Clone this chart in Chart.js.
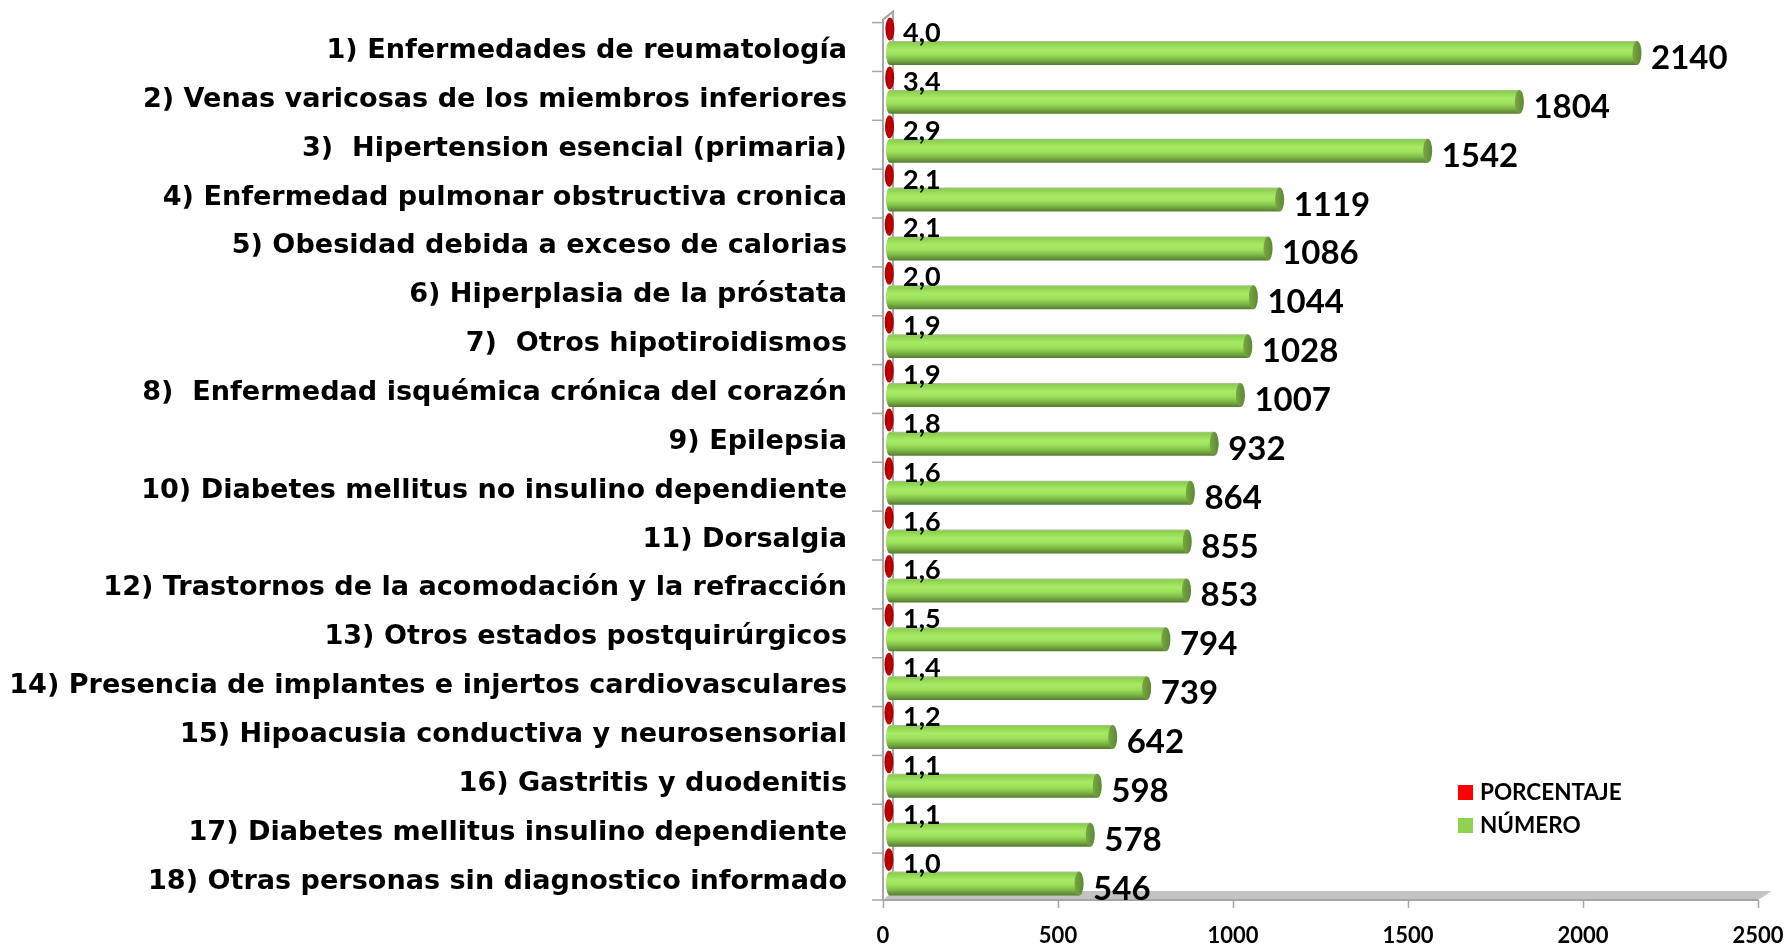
<!DOCTYPE html>
<html><head><meta charset="utf-8">
<script src="https://cdn.jsdelivr.net/npm/chart.js@4/dist/chart.umd.min.js"></script>
<style>html,body{margin:0;padding:0;background:#fff;}#wrap{width:1789px;height:945px;}</style>
</head><body><div id="wrap"><canvas id="c"></canvas></div>
<script>
const categories = [
"1) Enfermedades de reumatología",
"2) Venas varicosas de los miembros inferiores",
"3)  Hipertension esencial (primaria)",
"4) Enfermedad pulmonar obstructiva cronica",
"5) Obesidad debida a exceso de calorias",
"6) Hiperplasia de la próstata",
"7)  Otros hipotiroidismos",
"8)  Enfermedad isquémica crónica del corazón",
"9) Epilepsia",
"10) Diabetes mellitus no insulino dependiente",
"11) Dorsalgia",
"12) Trastornos de la acomodación y la refracción",
"13) Otros estados postquirúrgicos",
"14) Presencia de implantes e injertos cardiovasculares",
"15) Hipoacusia conductiva y neurosensorial",
"16) Gastritis y duodenitis",
"17) Diabetes mellitus insulino dependiente",
"18) Otras personas sin diagnostico informado"];
const porcentaje = [4.0,3.4,2.9,2.1,2.1,2.0,1.9,1.9,1.8,1.6,1.6,1.6,1.5,1.4,1.2,1.1,1.1,1.0];
const numero = [2140,1804,1542,1119,1086,1044,1028,1007,932,864,855,853,794,739,642,598,578,546];
const seriesNames = ["PORCENTAJE","NÚMERO"];
const xTicks = [0,500,1000,1500,2000,2500];

const FONT = "Lato";
const CAT_FONT = "'DejaVu Sans'";
// fit category font to the available label width
const mctx = document.createElement('canvas').getContext('2d');
mctx.font = "bold 100px " + CAT_FONT;
let maxW = 0;
categories.forEach(c => { maxW = Math.max(maxW, mctx.measureText(c).width); });
const catFont = Math.min(30, 100 * 838 / maxW);

const LEGEND_COLORS = ["#ff0000", "#92d050"];

const deco = {
  id: 'deco',
  beforeDatasetsDraw(chart) {
    const {ctx, chartArea: a, scales: {x}} = chart;
    const x0 = x.getPixelForValue(0);
    const xe = x.getPixelForValue(2500);
    const yb = a.bottom + 4;
    ctx.save();
    // floor
    ctx.fillStyle = "#c3c3c3";
    ctx.beginPath();
    ctx.moveTo(x0, yb); ctx.lineTo(xe, yb); ctx.lineTo(xe + 14, yb - 9); ctx.lineTo(x0 + 10, yb - 9); ctx.closePath();
    ctx.fill();
    ctx.strokeStyle = "#a6a6a6"; ctx.lineWidth = 2;
    ctx.beginPath(); ctx.moveTo(x0, yb); ctx.lineTo(xe, yb); ctx.stroke();
    // x ticks
    ctx.lineWidth = 1.5;
    xTicks.forEach(v => {
      const px = Math.round(x.getPixelForValue(v)) + 0.5;
      ctx.beginPath(); ctx.moveTo(px, yb); ctx.lineTo(px, yb + 8); ctx.stroke();
    });
    // wall
    ctx.lineWidth = 2;
    ctx.beginPath();
    ctx.moveTo(x0, yb); ctx.lineTo(x0, a.top + 3); ctx.lineTo(x0 + 10, a.top - 5); ctx.lineTo(x0 + 10, yb - 9);
    ctx.stroke();
    // y ticks
    const n = categories.length;
    const h = (a.bottom - a.top) / n;
    ctx.lineWidth = 1.5;
    for (let k = 0; k <= n; k++) {
      const py = Math.min(yb, a.top + k * h + 6);
      ctx.beginPath(); ctx.moveTo(x0 - 11, py); ctx.lineTo(x0, py); ctx.stroke();
    }
    ctx.restore();
  },
  afterDatasetsDraw(chart) {
    const {ctx} = chart;
    ctx.save();
    // green cylinders
    chart.getDatasetMeta(1).data.forEach((el, i) => {
      const top = el.y - el.height / 2, h = el.height;
      const xl = el.base + 7, xr = el.x + 5;
      const g = ctx.createLinearGradient(0, top, 0, top + h);
      g.addColorStop(0, "#b0c0a0");
      g.addColorStop(0.07, "#8ccf4e");
      g.addColorStop(0.35, "#a6ea66");
      g.addColorStop(0.55, "#9ee25c");
      g.addColorStop(0.75, "#82bd48");
      g.addColorStop(0.9, "#67963a");
      g.addColorStop(1, "#557a30");
      ctx.fillStyle = g;
      ctx.beginPath();
      ctx.ellipse(xl, el.y, 4, h / 2, 0, Math.PI / 2, Math.PI * 1.5);
      ctx.lineTo(xr, top);
      ctx.lineTo(xr, top + h);
      ctx.closePath();
      ctx.fill();
      // end cap
      const gc = ctx.createLinearGradient(xr - 4, 0, xr + 4, 0);
      gc.addColorStop(0, "#78a442");
      gc.addColorStop(1, "#5f8a36");
      ctx.fillStyle = gc;
      ctx.beginPath();
      ctx.ellipse(xr, el.y, 4.5, h / 2, 0, 0, Math.PI * 2);
      ctx.fill();
      // label
      ctx.fillStyle = "#000";
      ctx.font = "bold 33px " + FONT;
      ctx.textAlign = "left"; ctx.textBaseline = "alphabetic";
      ctx.fillText(String(numero[i]), el.x + 19, el.y + 16);
    });
    // red ends
    chart.getDatasetMeta(0).data.forEach((el, i) => {
      const cx = el.x + 5.5;
      const gr = ctx.createLinearGradient(cx - 5, 0, cx + 5, 0);
      gr.addColorStop(0, "#a00000");
      gr.addColorStop(0.5, "#c80000");
      gr.addColorStop(1, "#9a0000");
      ctx.fillStyle = gr;
      ctx.beginPath();
      ctx.ellipse(cx, el.y, 4.5, el.height / 2 - 0.5, 0, 0, Math.PI * 2);
      ctx.fill();
      ctx.fillStyle = "#000";
      ctx.font = "bold 27px " + FONT;
      ctx.textAlign = "left"; ctx.textBaseline = "alphabetic";
      ctx.fillText(porcentaje[i].toFixed(1).replace('.', ','), el.base + 20, el.y + 13);
    });
    // legend
    ctx.font = "bold 22.5px " + FONT;
    ctx.textBaseline = "middle";
    seriesNames.forEach((s, k) => {
      const ly = 785 + k * 33;
      ctx.fillStyle = LEGEND_COLORS[k];
      ctx.fillRect(1458, ly, 15, 15);
      ctx.fillStyle = "#000";
      ctx.fillText(s, 1480, ly + 8);
    });
    ctx.restore();
  }
};

new Chart(document.getElementById('c'), {
  type: 'bar',
  data: {
    labels: categories,
    datasets: [
      {label: seriesNames[0], data: porcentaje, backgroundColor: 'rgba(0,0,0,0)', borderWidth: 0},
      {label: seriesNames[1], data: numero, backgroundColor: 'rgba(0,0,0,0)', borderWidth: 0}
    ]
  },
  options: {
    indexAxis: 'y',
    responsive: true,
    maintainAspectRatio: false,
    animation: false,
    events: [],
    layout: {padding: {left: 0, right: 31, top: 16.6, bottom: 0}},
    datasets: {bar: {categoryPercentage: 0.98, barPercentage: 1.0}},
    plugins: {legend: {display: false}, tooltip: {enabled: false}},
    scales: {
      x: {
        min: 0, max: 2500,
        afterBuildTicks: (s) => { s.ticks = xTicks.map(v => ({value: v})); },
        grid: {display: false, drawTicks: false},
        border: {display: false},
        ticks: {color: '#000', font: {family: FONT, size: 22, weight: 'bold'}, padding: 27, maxRotation: 0,
                callback: (v) => String(v)},
        afterFit: (s) => { s.height = 49; s.paddingLeft = 0; s.paddingRight = 0; }
      },
      y: {
        grid: {display: false, drawTicks: false},
        border: {display: false},
        ticks: {color: '#000', font: {family: CAT_FONT, size: catFont, weight: 'bold'}, padding: 36, labelOffset: 10, autoSkip: false},
        afterFit: (s) => { s.width = 883; s.paddingTop = 0; s.paddingBottom = 0; }
      }
    }
  },
  plugins: [deco]
});
</script></body></html>
